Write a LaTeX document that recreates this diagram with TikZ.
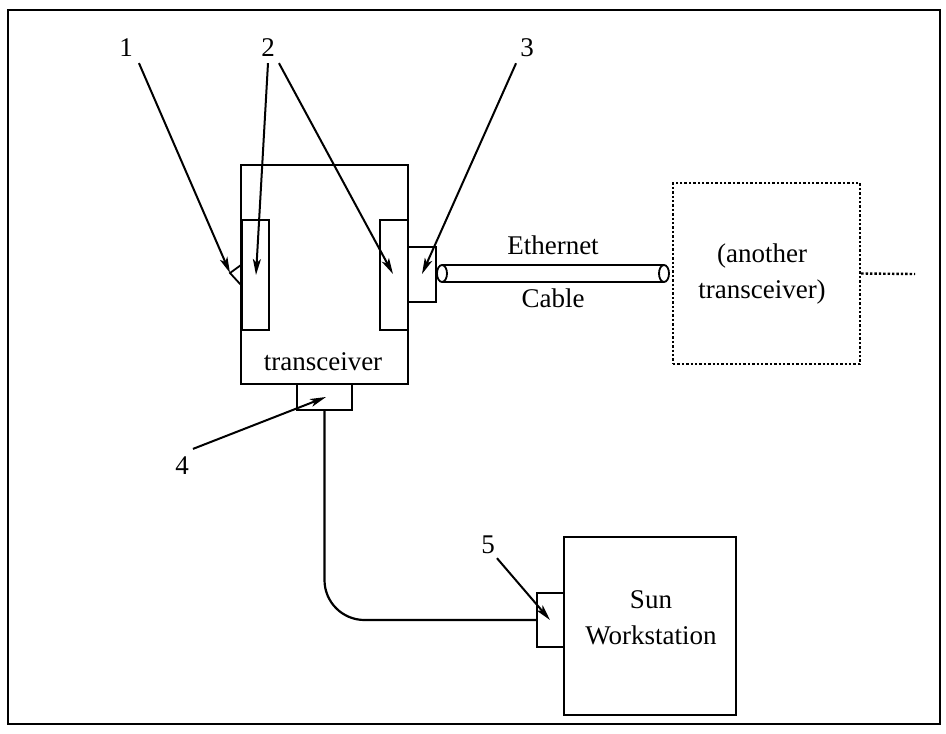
\documentclass[tikz,border=0pt]{standalone}
\usepackage{fontspec}
\setmainfont{Liberation Serif}
\usetikzlibrary{arrows.meta}
\tikzset{
  box/.style={draw, line width=2.2pt, rectangle, inner sep=0pt},
  ghost/.style={draw, line width=2.4pt, dotted, rectangle, inner sep=0pt},
  tag/.style={inner sep=2pt, font=\fontsize{27}{30}\selectfont},
  txt/.style={inner sep=0pt, align=center, font=\fontsize{27}{36}\selectfont},
  pointer/.style={line width=2pt, -{Stealth[length=16pt,width=8pt,inset=4pt]}}
}
\begin{document}
\begin{tikzpicture}[x=1pt,y=-1pt]
  \useasboundingbox (0,0) rectangle (946,734);
  % frame
  \draw[line width=2pt] (8,10) rectangle (940,724);
  % transceiver and its parts
  \node[box, minimum width=167pt, minimum height=219pt] (trans) at (324.5,274.5) {};
  \node[box, minimum width=27pt, minimum height=110pt] (slotL) at (255.5,275) {};
  \node[box, minimum width=28pt, minimum height=110pt] (slotR) at (394,275) {};
  \node[box, minimum width=28pt, minimum height=55pt] (portE) at (422,274.5) {};
  \node[box, minimum width=55pt, minimum height=26pt] (portT) at (324.5,397) {};
  \node[txt] (transtxt) at (323,362) {transceiver};
  \draw[line width=1.8pt] (241,265) -- (230,273) -- (241,285);
  % ethernet cable
  \coordinate (cabL) at (442,273.5);
  \coordinate (cabR) at (664,273.5);
  \draw[line width=2.2pt] ([yshift=8.5pt]cabL) -- ([yshift=8.5pt]cabR);
  \draw[line width=2.2pt] ([yshift=-8.5pt]cabL) -- ([yshift=-8.5pt]cabR);
  \draw[line width=1.8pt] (cabL) ellipse[x radius=5pt, y radius=8.5pt];
  \draw[line width=1.8pt] (cabR) ellipse[x radius=5pt, y radius=8.5pt];
  \node[txt] (ether) at (553,245) {Ethernet};
  \node[txt] (cable) at (553,298) {Cable};
  % other transceiver
  \node[ghost, minimum width=187pt, minimum height=181pt] (other) at (766.5,273.5) {};
  \node[txt] (othertxt) at (762,274) {(another\\transceiver)};
  \coordinate (tail) at (915,274);
  \draw[line width=2.4pt, dotted] (other.east) -- (tail);
  % workstation
  \node[box, minimum width=172pt, minimum height=178pt] (sun) at (650,626) {};
  \node[box, minimum width=27pt, minimum height=54pt] (portS) at (550.5,620) {};
  \node[txt] (suntxt) at (651,618) {Sun\\Workstation};
  \draw[line width=2.2pt, rounded corners=40pt] (portT.south) |- (portS.west);
  % numbered pointers
  \node[tag] (n1) at (126,48) {1};
  \node[tag] (n2) at (268,48) {2};
  \node[tag] (n3) at (527,48) {3};
  \node[tag] (n4) at (182,466) {4};
  \node[tag] (n5) at (488,545) {5};
  \coordinate (t1) at (230,273);
  \coordinate (t2a) at (256,275);
  \coordinate (t2b) at (393,274);
  \coordinate (t3) at (422,274);
  \coordinate (t4) at (326,397);
  \coordinate (t5) at (550,620);
  \draw[pointer] ([shift={(4pt,-4pt)}]n1.south east) -- (t1);
  \draw[pointer] ([yshift=-4pt]n2.south) -- (t2a);
  \draw[pointer] ([shift={(2pt,-4pt)}]n2.south east) -- (t2b);
  \draw[pointer] ([shift={(-2pt,-4pt)}]n3.south west) -- (t3);
  \draw[pointer] ([shift={(2pt,6pt)}]n4.north east) -- (t4);
  \draw[pointer] ([shift={(0pt,-2pt)}]n5.south east) -- (t5);
\end{tikzpicture}
\end{document}
